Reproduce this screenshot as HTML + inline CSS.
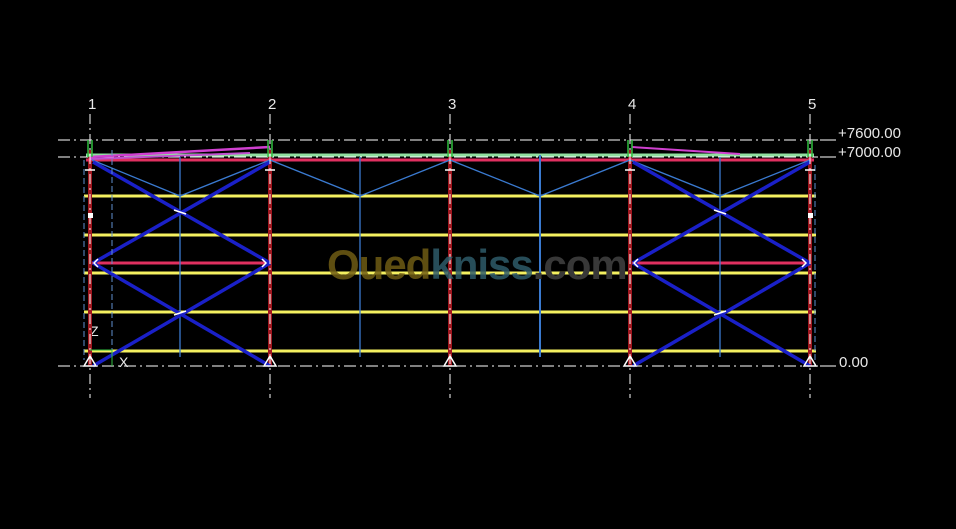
<!DOCTYPE html>
<html><head><meta charset="utf-8"><style>
html,body{margin:0;padding:0;background:#000;}
svg{display:block}
</style></head><body>
<svg width="956" height="529" viewBox="0 0 956 529" xmlns="http://www.w3.org/2000/svg">
<rect width="956" height="529" fill="#000"/>
<g stroke="#fff" stroke-width="1" stroke-dasharray="12,4,2,4" fill="none">
<line x1="58" y1="140" x2="832" y2="140"/>
<line x1="58" y1="157" x2="832" y2="157"/>
<line x1="58" y1="366" x2="832" y2="366"/>
</g>
<g stroke="#fff" stroke-width="1">
<line x1="820" y1="140" x2="836" y2="140"/>
<line x1="820" y1="157" x2="836" y2="157"/>
<line x1="820" y1="366" x2="836" y2="366"/>
</g>
<g font-family="Liberation Sans, sans-serif" font-size="15" fill="#e8e8e8">
<text x="838" y="138">+7600.00</text>
<text x="838" y="157">+7000.00</text>
<text x="839" y="367">0.00</text>
<text x="88" y="109">1</text>
<text x="268" y="109">2</text>
<text x="448" y="109">3</text>
<text x="628" y="109">4</text>
<text x="808" y="109">5</text>
<text x="90" y="336" font-size="14">Z</text>
<text x="119" y="367" font-size="14">X</text>
</g>
<g stroke="#f4f060" stroke-width="3">
<line x1="84" y1="196" x2="816" y2="196"/>
<line x1="84" y1="235" x2="816" y2="235"/>
<line x1="84" y1="273" x2="816" y2="273"/>
<line x1="84" y1="312" x2="816" y2="312"/>
<line x1="84" y1="351" x2="816" y2="351"/>
</g>
<g stroke="#a01820" stroke-width="4">
<line x1="90" y1="150" x2="90" y2="366"/>
<line x1="270" y1="150" x2="270" y2="366"/>
<line x1="450" y1="150" x2="450" y2="366"/>
<line x1="630" y1="150" x2="630" y2="366"/>
<line x1="810" y1="150" x2="810" y2="366"/>
</g>
<line x1="86" y1="155" x2="814" y2="155" stroke="#90e0a0" stroke-width="3"/>
<line x1="86" y1="160" x2="814" y2="160" stroke="#e03060" stroke-width="3"/>
<line x1="90" y1="157" x2="270" y2="147" stroke="#d040d0" stroke-width="2.5"/>
<line x1="90" y1="159" x2="250" y2="153" stroke="#c050d0" stroke-width="2"/>
<line x1="632" y1="147" x2="740" y2="154" stroke="#d040d0" stroke-width="2"/>
<line x1="92" y1="263" x2="268" y2="263" stroke="#e03060" stroke-width="3"/>
<line x1="632" y1="263" x2="808" y2="263" stroke="#e03060" stroke-width="3"/>
<g stroke="#3a7ad0" stroke-width="1.3" fill="none">
<polyline points="92,160 180,196 270,160 360,196 450,160 540,196 630,160 720,196 810,160"/>
<line x1="180" y1="157" x2="180" y2="357"/>
<line x1="360" y1="157" x2="360" y2="357"/>
<line x1="540" y1="155" x2="540" y2="357" stroke-width="2"/>
<line x1="720" y1="157" x2="720" y2="357"/>
</g>
<g stroke="#1a20c8" stroke-width="3.5">
<line x1="93" y1="162" x2="270" y2="263"/>
<line x1="270" y1="162" x2="93" y2="263"/>
<line x1="93" y1="263" x2="270" y2="366"/>
<line x1="270" y1="263" x2="93" y2="366"/>
<line x1="633" y1="162" x2="810" y2="263"/>
<line x1="810" y1="162" x2="633" y2="263"/>
<line x1="633" y1="263" x2="810" y2="366"/>
<line x1="810" y1="263" x2="633" y2="366"/>
</g>
<g stroke="#fff" stroke-width="1" stroke-dasharray="10,4,2,4">
<line x1="90" y1="114" x2="90" y2="398"/>
<line x1="270" y1="114" x2="270" y2="398"/>
<line x1="450" y1="114" x2="450" y2="398"/>
<line x1="630" y1="114" x2="630" y2="398"/>
<line x1="810" y1="114" x2="810" y2="398"/>
</g>
<g stroke="#6090d0" stroke-width="1" stroke-dasharray="6,3">
<line x1="112" y1="150" x2="112" y2="357"/>
<line x1="84" y1="160" x2="84" y2="360"/>
<line x1="815" y1="165" x2="815" y2="360"/>
</g>
<g stroke="#30c040" stroke-width="1.5">
<line x1="88" y1="140" x2="88" y2="157"/><line x1="92" y1="140" x2="92" y2="157"/>
<line x1="268" y1="140" x2="268" y2="157"/><line x1="272" y1="140" x2="272" y2="157"/>
<line x1="448" y1="140" x2="448" y2="157"/><line x1="452" y1="140" x2="452" y2="157"/>
<line x1="628" y1="140" x2="628" y2="157"/><line x1="632" y1="140" x2="632" y2="157"/>
<line x1="808" y1="140" x2="808" y2="157"/><line x1="812" y1="140" x2="812" y2="157"/>
</g>
<polyline points="90,350 112,350 112,366" stroke="#30c040" fill="none" stroke-width="1"/>
<g fill="none" stroke="#fff" stroke-width="1.5">
<path d="M84,366 L90,356 L96,366 Z M264,366 L270,356 L276,366 Z M444,366 L450,356 L456,366 Z M624,366 L630,356 L636,366 Z M804,366 L810,356 L816,366 Z"/>
<path d="M85,170 H95 M265,170 H275 M445,170 H455 M625,170 H635 M805,170 H815"/>
<path d="M174,210 L186,214 M174,315 L186,311 M714,210 L726,214 M714,315 L726,311"/>
<path d="M98,259 L94,263 L98,267 M262,259 L266,263 L262,267 M638,259 L634,263 L638,267 M802,259 L806,263 L802,267"/>
</g>
<rect x="88" y="213" width="5" height="5" fill="#fff"/>
<rect x="808" y="213" width="5" height="5" fill="#fff"/>
<text x="327" y="279" font-family="Liberation Sans, sans-serif" font-weight="bold" font-size="42" letter-spacing="-1"><tspan fill="#6e5c14" fill-opacity="0.85">Oued</tspan><tspan fill="#2e5a68" fill-opacity="0.85">kniss</tspan><tspan fill="#383838">.com</tspan></text>
</svg>
</body></html>
